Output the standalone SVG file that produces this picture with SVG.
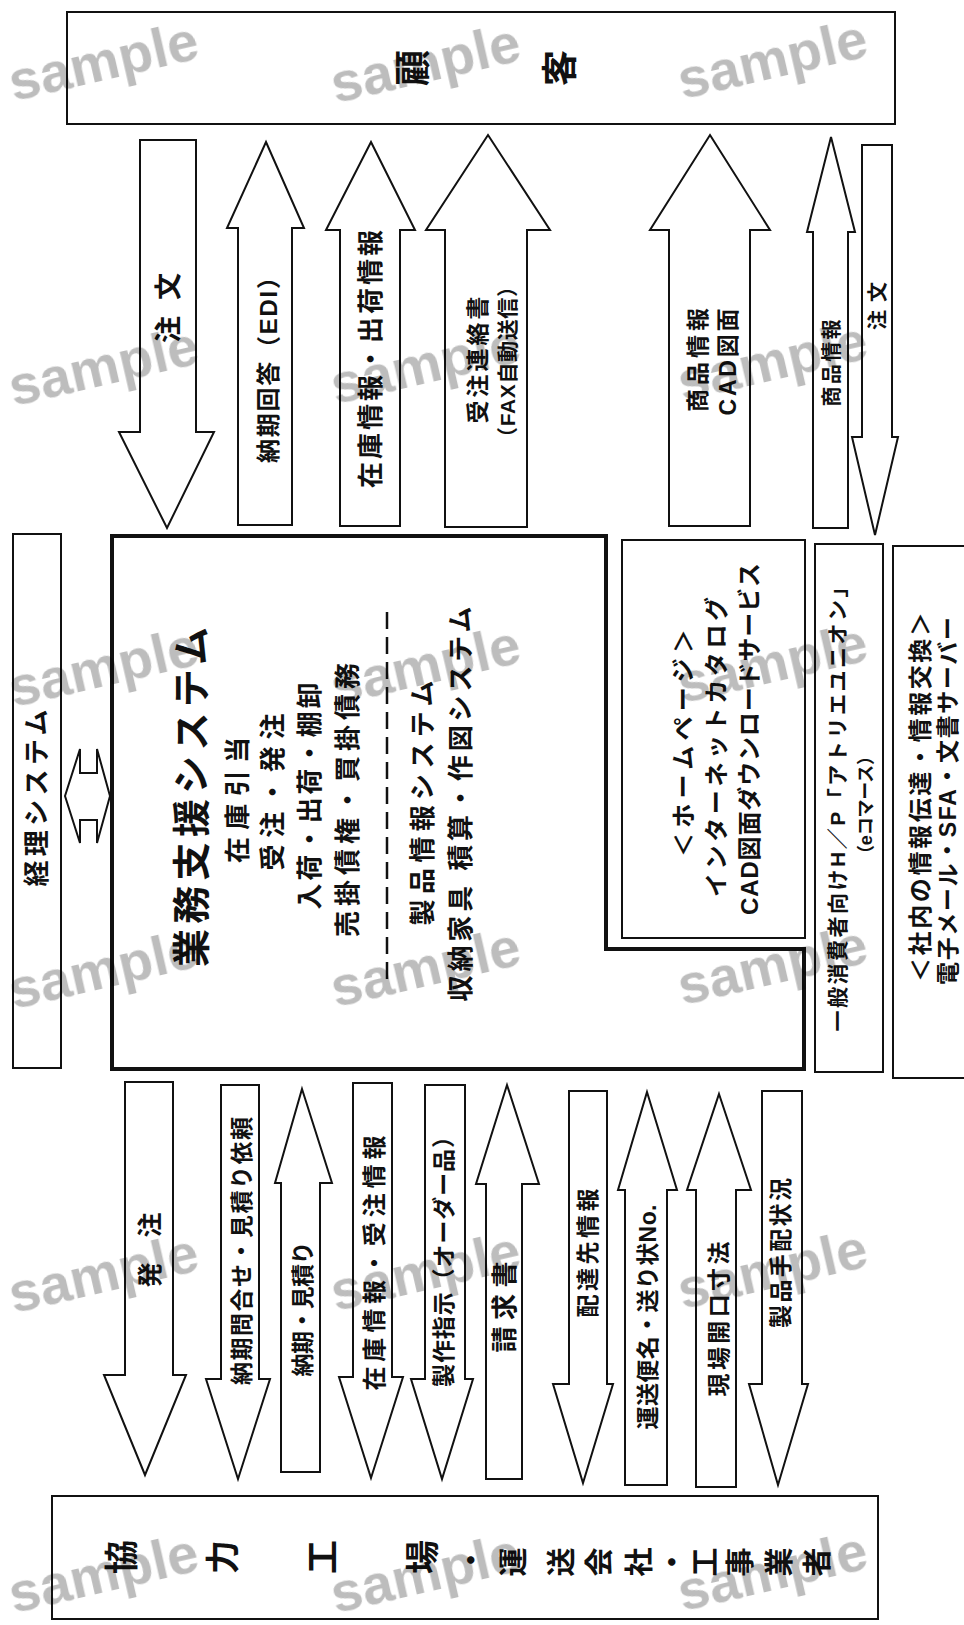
<svg xmlns="http://www.w3.org/2000/svg" width="964" height="1625" viewBox="0 0 964 1625">
<style>
.box{fill:#fff;stroke:#111;stroke-width:2}
.main{fill:#fff;stroke:#111;stroke-width:4;stroke-linejoin:miter}
.arr{fill:#fff;stroke:#111;stroke-width:2;stroke-linejoin:miter}
.t{font-family:"Liberation Sans","Noto Sans CJK JP",sans-serif;font-weight:bold;fill:#111;text-anchor:middle;dominant-baseline:central}
.wm{font-family:"Liberation Sans",sans-serif;font-weight:bold;font-size:56px;fill:#bdbdbd;text-anchor:middle;dominant-baseline:central}
#watermark{mix-blend-mode:multiply}
</style>
<rect width="964" height="1625" fill="#fff"/>

<g id="customer">
<rect class="box" x="67" y="12" width="828" height="112"/>
<text class="t" font-size="36" transform="translate(413,68) rotate(-90)">顧</text>
<text class="t" font-size="36" transform="translate(560,68) rotate(-90)">客</text>
</g>

<g id="keiri">
<rect class="box" x="13" y="534" width="48" height="534"/>
<text class="t" font-size="26" textLength="177" transform="translate(37,798) rotate(-90)">経理システム</text>
</g>

<g id="main">
<polygon class="main" points="112,536 606,536 606,949 804,949 804,1069 112,1069"/>
<text class="t" font-size="38" textLength="340" transform="translate(192,797) rotate(-90)">業務支援システム</text>
<text class="t" font-size="26" textLength="126" transform="translate(238,800) rotate(-90)">在庫引当</text>
<text class="t" font-size="26" textLength="157" transform="translate(273,792) rotate(-90)">受注・発注</text>
<text class="t" font-size="26" textLength="227" transform="translate(310,796) rotate(-90)">入荷・出荷・棚卸</text>
<text class="t" font-size="26" textLength="274" transform="translate(348,800) rotate(-90)">売掛債権・買掛債務</text>
<line x1="387" y1="612" x2="387" y2="983" stroke="#111" stroke-width="2.5" stroke-dasharray="17 8"/>
<text class="t" font-size="26" textLength="245" transform="translate(423,803) rotate(-90)">製品情報システム</text>
<text class="t" font-size="26" textLength="395" transform="translate(461,804) rotate(-90)">収納家具 積算・作図システム</text>
</g>

<g id="homepage">
<rect class="box" x="622" y="540" width="183" height="398"/>
<text class="t" font-size="24" textLength="228" transform="translate(683,743) rotate(-90)">＜ホームページ＞</text>
<text class="t" font-size="24" textLength="300" transform="translate(716,747) rotate(-90)">インターネットカタログ</text>
<text class="t" font-size="24" textLength="352" transform="translate(749,739) rotate(-90)">CAD図面ダウンロードサービス</text>
</g>

<g id="ecommerce">
<rect class="box" x="815" y="544" width="68" height="528"/>
<text class="t" font-size="21" textLength="455" transform="translate(837,804) rotate(-90)">一般消費者向けH／P「アトリエユニオン」</text>
<text class="t" font-size="18" textLength="116" transform="translate(866,805) rotate(-90)">（eコマース）</text>
</g>

<g id="internal">
<rect class="box" x="893" y="546" width="80" height="532"/>
<text class="t" font-size="24" textLength="370" transform="translate(920,797) rotate(-90)">＜社内の情報伝達・情報交換＞</text>
<text class="t" font-size="23" textLength="368" transform="translate(948,801) rotate(-90)">電子メール・SFA・文書サーバー</text>
</g>

<g id="partners">
<rect class="box" x="52" y="1496" width="826" height="123"/>
<text class="t" font-size="34" transform="translate(122,1557) rotate(-90)">協</text>
<text class="t" font-size="34" transform="translate(223,1557) rotate(-90)">力</text>
<text class="t" font-size="34" transform="translate(323,1557) rotate(-90)">工</text>
<text class="t" font-size="34" transform="translate(423,1557) rotate(-90)">場</text>
<text class="t" font-size="29" transform="translate(472,1560) rotate(-90)">・</text>
<text class="t" font-size="29" transform="translate(514,1562) rotate(-90)">運</text>
<text class="t" font-size="29" transform="translate(562,1562) rotate(-90)">送</text>
<text class="t" font-size="29" transform="translate(600,1562) rotate(-90)">会</text>
<text class="t" font-size="29" transform="translate(640,1562) rotate(-90)">社</text>
<text class="t" font-size="29" transform="translate(673,1562) rotate(-90)">・</text>
<text class="t" font-size="29" transform="translate(706,1562) rotate(-90)">工</text>
<text class="t" font-size="29" transform="translate(741,1562) rotate(-90)">事</text>
<text class="t" font-size="29" transform="translate(780,1562) rotate(-90)">業</text>
<text class="t" font-size="29" transform="translate(818,1562) rotate(-90)">者</text>
</g>

<g id="connectors">
<polygon class="arr" points="65,796 80,749 80,773 97,773 97,749 110,796 97,843 97,820 80,820 80,843"/>
<polygon class="arr" points="140,140 196,140 196,432 214,432 167,528 119,432 140,432"/>
<polygon class="arr" points="266,142 304,228 292,228 292,525 238,525 238,228 227,228"/>
<polygon class="arr" points="371,142 415,230 400,230 400,526 340,526 340,230 326,230"/>
<polygon class="arr" points="488,135 550,230 527,230 527,527 445,527 445,230 426,230"/>
<polygon class="arr" points="710,135 770,230 750,230 750,526 669,526 669,230 650,230"/>
<polygon class="arr" points="831,137 855,232 848,232 848,528 813,528 813,232 807,232"/>
<polygon class="arr" points="862,145 892,145 892,437 898,437 875,535 852,437 862,437"/>
<polygon class="arr" points="125,1082 173,1082 173,1375 186,1375 145,1475 104,1375 125,1375"/>
<polygon class="arr" points="221,1085 259,1085 259,1379 270,1379 238,1479 206,1379 221,1379"/>
<polygon class="arr" points="302,1089 332,1183 320,1183 320,1472 281,1472 281,1183 275,1183"/>
<polygon class="arr" points="353,1083 392,1083 392,1377 403,1377 371,1478 339,1377 353,1377"/>
<polygon class="arr" points="425,1085 465,1085 465,1379 473,1379 442,1479 411,1379 425,1379"/>
<polygon class="arr" points="507,1085 539,1184 522,1184 522,1479 486,1479 486,1184 476,1184"/>
<polygon class="arr" points="569,1091 607,1091 607,1384 613,1384 583,1483 553,1384 569,1384"/>
<polygon class="arr" points="647,1092 677,1190 667,1190 667,1485 625,1485 625,1190 618,1190"/>
<polygon class="arr" points="719,1094 751,1190 736,1190 736,1487 696,1487 696,1190 687,1190"/>
<polygon class="arr" points="762,1091 802,1091 802,1384 808,1384 778,1485 749,1384 762,1384"/>
</g>

<g id="labels">
<text class="t" font-size="27" textLength="70" transform="translate(169,308) rotate(-90)">注文</text>
<text class="t" font-size="24" textLength="198" transform="translate(268,364) rotate(-90)">納期回答（EDI）</text>
<text class="t" font-size="26" textLength="258" transform="translate(371,359) rotate(-90)">在庫情報・出荷情報</text>
<text class="t" font-size="23" textLength="127" transform="translate(478,360) rotate(-90)">受注連絡書</text>
<text class="t" font-size="21" textLength="172" transform="translate(507,362) rotate(-90)">（FAX自動送信）</text>
<text class="t" font-size="23" textLength="104" transform="translate(698,360) rotate(-90)">商品情報</text>
<text class="t" font-size="23" textLength="107" transform="translate(728,362) rotate(-90)">CAD図面</text>
<text class="t" font-size="20" textLength="87" transform="translate(832,363) rotate(-90)">商品情報</text>
<text class="t" font-size="20" textLength="48" transform="translate(878,306) rotate(-90)">注文</text>
<text class="t" font-size="25" textLength="75" transform="translate(150,1250) rotate(-90)">発注</text>
<text class="t" font-size="23" textLength="268" transform="translate(242,1251) rotate(-90)">納期問合せ・見積り依頼</text>
<text class="t" font-size="23" textLength="135" transform="translate(303,1309) rotate(-90)">納期・見積り</text>
<text class="t" font-size="24" textLength="255" transform="translate(374,1263) rotate(-90)">在庫情報・受注情報</text>
<text class="t" font-size="23" textLength="262" transform="translate(444,1256) rotate(-90)">製作指示（オーダー品）</text>
<text class="t" font-size="26" textLength="91" transform="translate(505,1307) rotate(-90)">請求書</text>
<text class="t" font-size="23" textLength="129" transform="translate(588,1253) rotate(-90)">配達先情報</text>
<text class="t" font-size="23" textLength="225" transform="translate(648,1317) rotate(-90)">運送便名・送り状No.</text>
<text class="t" font-size="23" textLength="155" transform="translate(719,1319) rotate(-90)">現場開口寸法</text>
<text class="t" font-size="23" textLength="150" transform="translate(781,1253) rotate(-90)">製品手配状況</text>
</g>

<g id="watermark">
<text class="wm" transform="translate(103,60) rotate(-13)">sample</text>
<text class="wm" transform="translate(425,62) rotate(-13)">sample</text>
<text class="wm" transform="translate(772,58) rotate(-13)">sample</text>
<text class="wm" transform="translate(103,365) rotate(-13)">sample</text>
<text class="wm" transform="translate(425,363) rotate(-13)">sample</text>
<text class="wm" transform="translate(772,360) rotate(-13)">sample</text>
<text class="wm" transform="translate(103,666) rotate(-13)">sample</text>
<text class="wm" transform="translate(425,664) rotate(-13)">sample</text>
<text class="wm" transform="translate(772,662) rotate(-13)">sample</text>
<text class="wm" transform="translate(103,968) rotate(-13)">sample</text>
<text class="wm" transform="translate(425,966) rotate(-13)">sample</text>
<text class="wm" transform="translate(772,964) rotate(-13)">sample</text>
<text class="wm" transform="translate(103,1272) rotate(-13)">sample</text>
<text class="wm" transform="translate(425,1270) rotate(-13)">sample</text>
<text class="wm" transform="translate(772,1268) rotate(-13)">sample</text>
<text class="wm" transform="translate(103,1572) rotate(-13)">sample</text>
<text class="wm" transform="translate(425,1572) rotate(-13)">sample</text>
<text class="wm" transform="translate(772,1570) rotate(-13)">sample</text>
</g>
</svg>
